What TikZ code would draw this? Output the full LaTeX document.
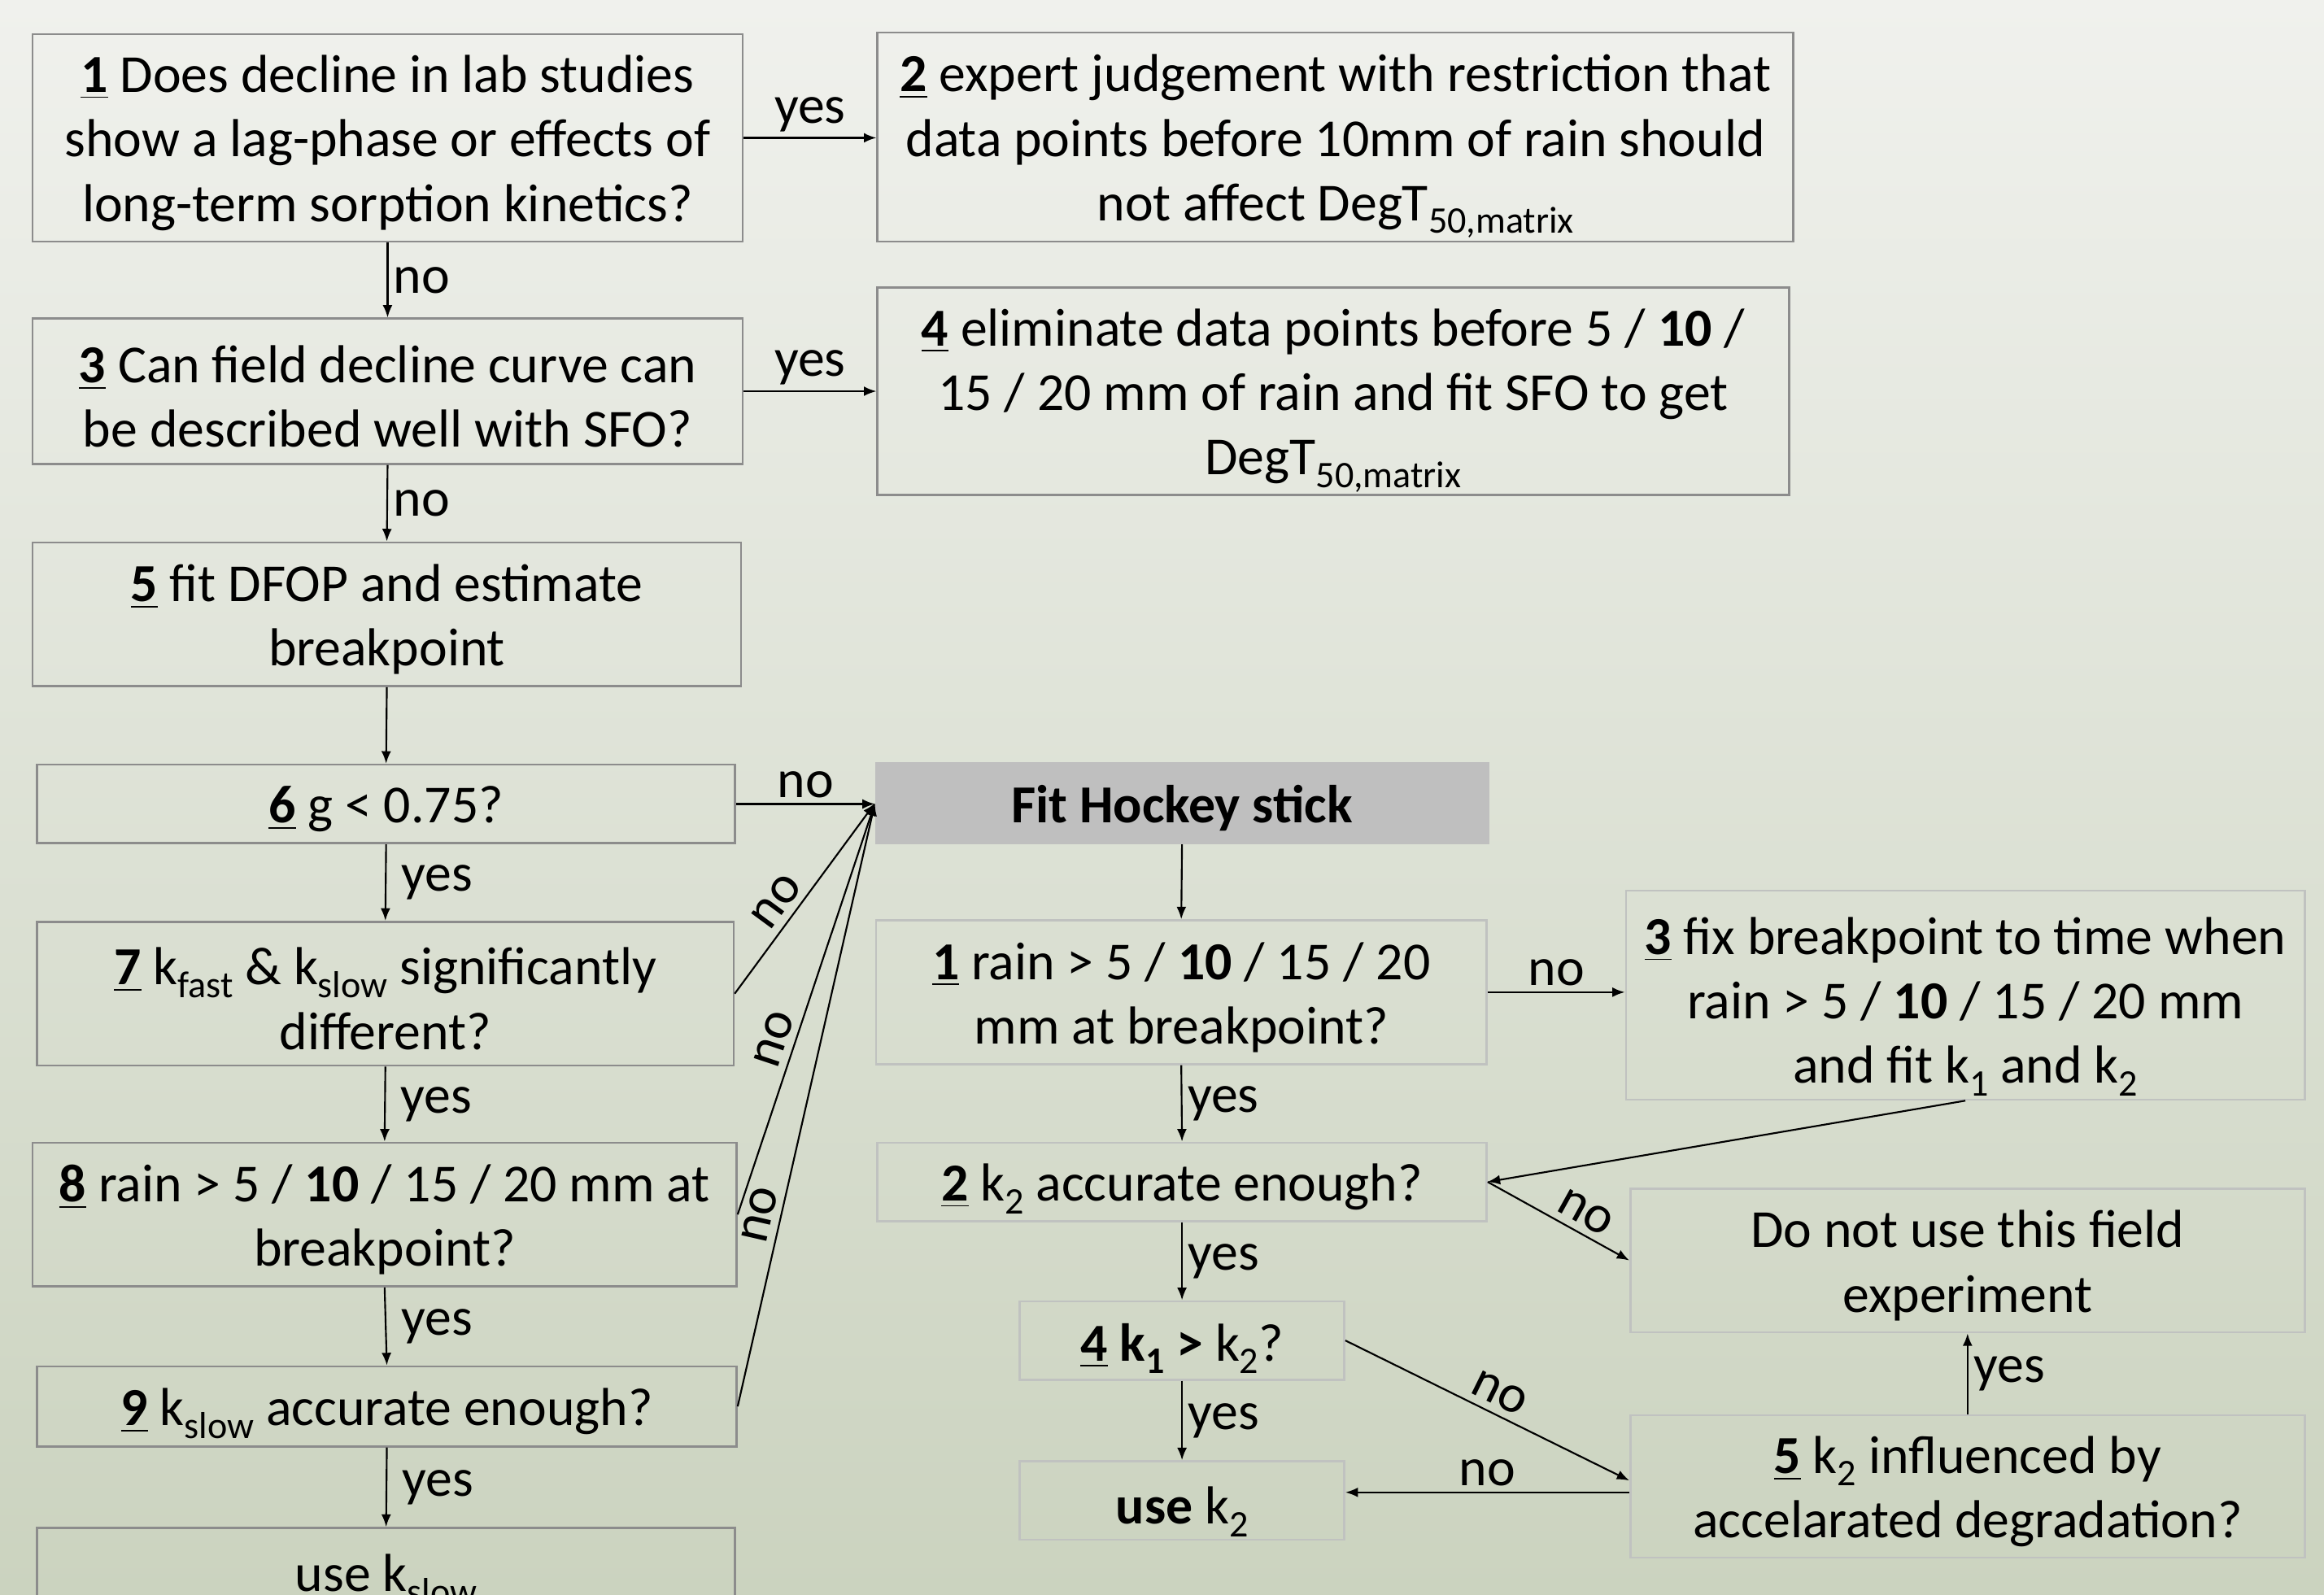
\documentclass[tikz,border=0pt]{standalone}
\usepackage{fontspec}
\setmainfont{Carlito}
\usetikzlibrary{arrows.meta}
\definecolor{bgtop}{RGB}{240,241,237}
\definecolor{bgbot}{RGB}{203,211,191}
\definecolor{bdark}{RGB}{140,140,140}
\definecolor{blight}{RGB}{192,194,192}
\definecolor{hsfill}{RGB}{191,191,191}
\newcommand\mybox[7]{%
  \node[#6, minimum width={(#4-#2)*0.015cm}, minimum height={(#5-#3)*0.015cm}] (#1) at ({(#2+#4)/2},{(#3+#5)/2}) {};
  \node[align=center, inner sep=0pt] (#1t) at ([yshift=-0.0525cm]#1.center) {#7};}
\newcommand\nm[1]{\textbf{\underline{#1}}}
\newcommand\sub[1]{\raisebox{-3.6pt}[0pt][0pt]{\fontsize{10.8}{12}\selectfont #1}}
\begin{document}
\begin{tikzpicture}[x=0.015cm, y=-0.015cm,
  every node/.style={font=\fontsize{15.4}{18.6}\selectfont},
  lbox/.style={draw=bdark, line width=0.6pt, inner sep=0pt},
  rbox/.style={draw=blight, line width=0.6pt, inner sep=0pt},
  hsbox/.style={fill=hsfill, draw=hsfill, line width=0.6pt, inner sep=0pt},
  arr/.style={-{Latex[length=3.6pt,width=2.8pt]}, line width=0.5pt},
  lab/.style={inner sep=1.5pt},
  slab/.style={inner sep=2pt, sloped, above},
  lyes/.style={inner sep=1.5pt, right, xshift=0.1cm}
]
\path[use as bounding box] (0,0) rectangle (1568,1076);
\clip (0,0) rectangle (1568,1076);
\fill[top color=bgtop, bottom color=bgbot] (0,0) rectangle (1568,1076);

% left column
\mybox{b1}{22}{23}{501}{163}{lbox}{\nm{1} Does decline in lab studies\\show a lag-phase or effects of\\long-term sorption kinetics?}
\mybox{b2}{592}{22}{1210}{163}{lbox}{\nm{2} expert judgement with restriction that\\data points before 10mm of rain should\\not affect DegT\sub{50,matrix}}
\mybox{b3}{22}{215}{501}{313}{lbox}{\nm{3} Can field decline curve can\\be described well with SFO?}
\mybox{b4}{592}{194}{1207}{334}{lbox}{\nm{4} eliminate data points before 5 / \textbf{10} /\\15 / 20 mm of rain and fit SFO to get\\DegT\sub{50,matrix}}
\mybox{b5}{22}{366}{500}{463}{lbox}{\nm{5} fit DFOP and estimate\\breakpoint}
\mybox{b6}{25}{516}{496}{569}{lbox}{\nm{6} g < 0.75?}
\mybox{b7}{25}{622}{495}{719}{lbox}{\nm{7} k\sub{fast} \& k\sub{slow} significantly\\different?}
\mybox{b8}{22}{771}{497}{868}{lbox}{\nm{8} rain > 5 / \textbf{10} / 15 / 20 mm at\\breakpoint?}
\mybox{b9}{25}{922}{497}{976}{lbox}{\nm{9} k\sub{slow} accurate enough?}
\mybox{b10}{25}{1031}{496}{1085}{lbox}{use k\sub{slow}}

% hockey stick column
\mybox{HS}{591}{515}{1004}{569}{hsbox}{\textbf{Fit Hockey stick}}
\mybox{H1}{591}{621}{1003}{718}{rbox}{\nm{1} rain > 5 / \textbf{10} / 15 / 20\\mm at breakpoint?}
\mybox{H3}{1097}{601}{1555}{742}{rbox}{\nm{3} fix breakpoint to time when\\rain > 5 / \textbf{10} / 15 / 20 mm\\and fit k\sub{1} and k\sub{2}}
\mybox{H2}{592}{771}{1003}{824}{rbox}{\nm{2} k\sub{2} accurate enough?}
\mybox{DoNot}{1100}{802}{1555}{899}{rbox}{Do not use this field\\experiment}
\mybox{H4}{688}{878}{907}{931}{rbox}{\textbf{\underline{4} k\sub{1} >} k\sub{2}?}
\mybox{H5}{1100}{955}{1555}{1051}{rbox}{\nm{5} k\sub{2} influenced by\\accelarated degradation?}
\mybox{H6}{688}{986}{907}{1039}{rbox}{\textbf{use} k\sub{2}}

% connectors left
\draw[arr] (b1.east) -- node[lab,above]{yes} (b1.east -| b2.west);
\draw[arr] (b1.south) -- node[lab,right]{no} (b3.north);
\draw[arr] (b3.east) -- node[lab,above]{yes} (b3.east -| b4.west);
\draw[arr] (b3.south) -- node[lab,right]{no} (b5.north);
\draw[arr] (b5.south) -- (b6.north);
\draw[arr] (b6.south) -- node[lyes]{yes} (b7.north);
\draw[arr] (b7.south) -- node[lyes]{yes} (b8.north);
\draw[arr] (b8.south) -- node[lyes]{yes} (b9.north);
\draw[arr] (b9.south) -- node[lyes]{yes} (b10.north);
\draw[arr] (b6.east) -- node[lab,above]{no} (b6.east -| HS.west);
\draw[arr] (b7.east) -- node[slab,pos=0.42]{no} (HS.west);
\draw[arr] (b8.east) -- node[slab,pos=0.41]{no} (HS.west);
\draw[arr] (b9.east) -- node[slab,pos=0.31]{no} (HS.west);

% connectors right
\draw[arr] (HS.south) -- (H1.north);
\draw[arr] (H1.east) -- node[lab,above]{no} (H1.east -| H3.west);
\draw[arr] (H1.south) -- node[lab,right]{yes} (H2.north);
\draw[arr] (H3.south) -- (H2.east);
\draw[arr] (H2.east) -- node[slab,pos=0.62]{no} (DoNot.west);
\draw[arr] (H2.south) -- node[lab,right]{yes} (H4.north);
\draw[arr] (H4.south) -- node[lab,right]{yes} (H6.north);
\draw[arr] (H4.east) -- node[slab,pos=0.51]{no} (H5.179);
\draw[arr] (H5.181) -- node[lab,above]{no} (H5.181 -| H6.east);
\draw[arr] (H5.north) -- node[lab,right]{yes} (DoNot.south);
\end{tikzpicture}
\end{document}
